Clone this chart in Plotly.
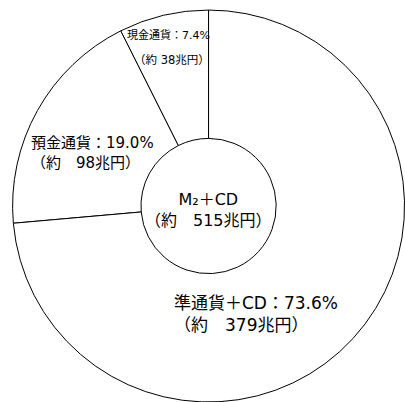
import plotly.graph_objects as go

# M2+CD breakdown
names = ["現金通貨", "預金通貨", "準通貨＋CD"]
shares = [7.4, 19.0, 73.6]          # percent of M2+CD
amounts = [38, 98, 379]             # trillion yen (approx.)
total_label = "M₂＋CD"
total_amount = 515

FONT = "DejaVu Sans, Noto Sans CJK JP, sans-serif"

# start the first slice at 12 o'clock and run counterclockwise
start_rot = -shares[0] / sum(shares) * 360

fig = go.Figure(
    go.Pie(
        labels=names,
        values=shares,
        sort=False,
        direction="counterclockwise",
        rotation=start_rot,
        hole=0.345,
        textinfo="none",
        hoverinfo="label+percent",
        marker=dict(colors=["white"] * len(names), line=dict(color="black", width=1)),
        domain=dict(x=[0.03, 1.0], y=[0.0, 0.975]),
        showlegend=False,
    )
)


def note(text, x, y, size, xanchor="left"):
    return dict(
        x=x, y=y, xref="paper", yref="paper",
        xanchor=xanchor, yanchor="middle",
        align="left" if xanchor == "left" else "center",
        text=text, showarrow=False,
        font=dict(family=FONT, size=size, color="black"),
    )


annotations = [
    # small slice: two separately spaced lines
    note(f"{names[0]}：{shares[0]:.1f}%", 0.417, 0.913, 11, "center"),
    note(f"（約 {amounts[0]}兆円）", 0.424, 0.851, 11.5, "center"),
    note(f"{names[1]}：{shares[1]:.1f}%<br>（約　{amounts[1]}兆円）", 0.072, 0.619, 15),
    note(f"{names[2]}：{shares[2]:.1f}%<br>（約　{amounts[2]}兆円）", 0.425, 0.219, 17),
    note(f"{total_label}<br>（約　{total_amount}兆円）", 0.516, 0.478, 16, "center"),
]

fig.update_layout(
    width=405,
    height=402,
    margin=dict(l=0, r=0, t=0, b=0),
    paper_bgcolor="white",
    plot_bgcolor="white",
    annotations=annotations,
)

fig.write_html("out.html")
